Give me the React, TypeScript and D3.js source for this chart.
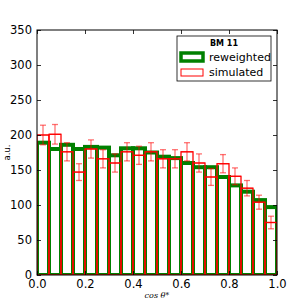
import { useEffect, useRef } from "react";
import { axisBottom, axisLeft, axisTop, axisRight, scaleLinear, select, range } from "d3";

// bin lower edges of cos(theta*) histogram (width 0.05)
const binEdges = range(0, 1.0001, 0.05).map((d) => +d.toFixed(2));
const reweighted = [189, 180, 186, 180, 183, 182, 171, 181, 181, 175, 169, 167, 160, 154, 154, 140, 128, 119, 107, 97];
const simulated = [200, 201, 176, 147, 180, 166, 160, 176, 171, 176, 166, 166, 176, 160, 140, 159, 141, 124, 104, 75];
const simErrors = [14, 14, 13, 12, 13, 13, 13, 13, 13, 13, 13, 13, 13, 13, 12, 13, 12, 11, 10, 9];
const xTicks = [0, 0.2, 0.4, 0.6, 0.8, 1.0];
const yTicks = [0, 50, 100, 150, 200, 250, 300, 350];

const margin = { top: 30, right: 30, bottom: 32, left: 37 };
const W = 307;
const H = 307;
const width = W - margin.left - margin.right;
const height = H - margin.top - margin.bottom;

export default function App() {
  const axRef = useRef(null);

  const x = scaleLinear().domain([0, 1]).range([0, width]);
  const y = scaleLinear().domain([0, 350]).range([height, 0]);

  useEffect(() => {
    const g = select(axRef.current);
    g.selectAll("*").remove();
    const font = "DejaVu Sans, sans-serif";
    const style = (sel) => {
      sel.select(".domain").remove();
      sel.selectAll("line").attr("stroke", "#000").attr("stroke-width", 0.8);
      sel.selectAll("text").attr("font-family", font).attr("font-size", 11.5).attr("fill", "#000");
    };
    g.append("g")
      .attr("transform", `translate(0,${height})`)
      .call(axisBottom(x).tickValues(xTicks).tickFormat((d) => d.toFixed(1)).tickSizeInner(-4).tickSizeOuter(0).tickPadding(5))
      .call(style);
    g.append("g")
      .call(axisTop(x).tickValues(xTicks).tickFormat(() => "").tickSizeInner(-4).tickSizeOuter(0))
      .call(style);
    g.append("g")
      .call(axisLeft(y).tickValues(yTicks).tickSizeInner(-4).tickSizeOuter(0).tickPadding(5))
      .call(style);
    g.append("g")
      .attr("transform", `translate(${width},0)`)
      .call(axisRight(y).tickValues(yTicks).tickFormat(() => "").tickSizeInner(-4).tickSizeOuter(0))
      .call(style);
  }, []);

  const bins = reweighted.map((v, i) => ({ x0: binEdges[i], x1: binEdges[i + 1], rw: v, sim: simulated[i], err: simErrors[i] }));

  return (
    <svg width={W} height={H} style={{ position: "absolute", left: 0, top: 0, background: "#fff" }}>
      <defs>
        <clipPath id="plotclip">
          <rect x={0} y={0} width={width} height={height} />
        </clipPath>
      </defs>
      <g transform={`translate(${margin.left},${margin.top})`}>
        <g clipPath="url(#plotclip)">
          {bins.map((b, i) => (
            <rect
              key={`rw-${i}`}
              x={x(b.x0)}
              y={y(b.rw)}
              width={x(b.x1) - x(b.x0)}
              height={height - y(b.rw)}
              fill="#fff"
              stroke="green"
              strokeWidth={4}
            />
          ))}
          {bins.map((b, i) => (
            <rect
              key={`sim-${i}`}
              x={x(b.x0)}
              y={y(b.sim)}
              width={x(b.x1) - x(b.x0)}
              height={height - y(b.sim)}
              fill="none"
              stroke="red"
              strokeWidth={1.3}
            />
          ))}
          {bins.map((b, i) => {
            const cx = x((b.x0 + b.x1) / 2);
            return (
              <g key={`err-${i}`} stroke="red" strokeOpacity={0.55} strokeWidth={1.3}>
                <line x1={x(b.x0)} x2={x(b.x1)} y1={y(b.sim)} y2={y(b.sim)} />
                <line x1={cx} x2={cx} y1={y(b.sim - b.err)} y2={y(b.sim + b.err)} />
                <line x1={cx - 3} x2={cx + 3} y1={y(b.sim - b.err)} y2={y(b.sim - b.err)} />
                <line x1={cx - 3} x2={cx + 3} y1={y(b.sim + b.err)} y2={y(b.sim + b.err)} />
              </g>
            );
          })}
        </g>
        <rect x={0} y={0} width={width} height={height} fill="none" stroke="#000" strokeWidth={1} />
        <g ref={axRef} />
        <g transform={`translate(${width - 100},6)`} fontFamily="DejaVu Sans, sans-serif">
          <rect x={0} y={0} width={94} height={45} fill="#fff" stroke="#000" strokeWidth={0.8} />
          <text x={47} y={10} textAnchor="middle" fontSize={8} fontWeight="bold">BM 11</text>
          <rect x={4} y={17} width={22} height={8} fill="#fff" stroke="green" strokeWidth={3.5} />
          <text x={32} y={25} fontSize={11}>reweighted</text>
          <rect x={4} y={33} width={22} height={7} fill="#fff" stroke="red" strokeWidth={1} />
          <text x={32} y={40} fontSize={11}>simulated</text>
        </g>
        <text
          transform={`translate(-27,${height / 2}) rotate(-90)`}
          textAnchor="middle"
          fontFamily="DejaVu Sans, sans-serif"
          fontSize={8.5}
        >
          a.u.
        </text>
        <text
          x={width / 2}
          y={height + 23}
          textAnchor="middle"
          fontFamily="DejaVu Serif, serif"
          fontStyle="italic"
          fontSize={8}
        >
          cos θ*
        </text>
      </g>
    </svg>
  );
}
